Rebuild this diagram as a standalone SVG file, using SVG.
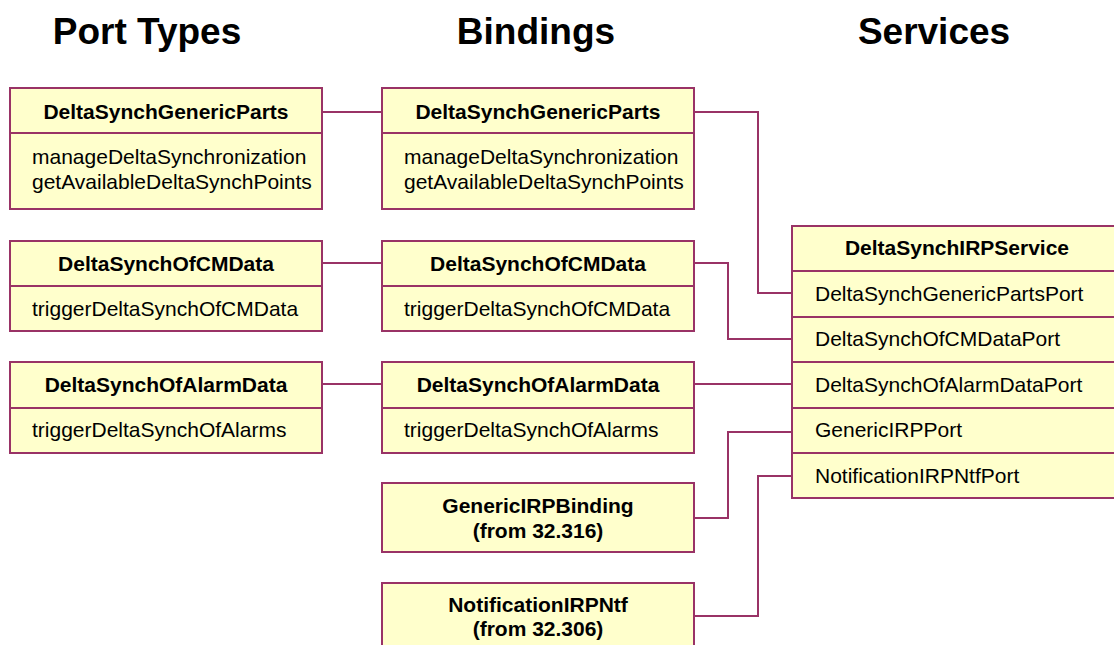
<svg xmlns="http://www.w3.org/2000/svg" width="1114" height="645" viewBox="0 0 1114 645">
<style>
.box{fill:#FFFFCC;stroke:#993366;stroke-width:2}
.div{stroke:#993366;stroke-width:2}
.conn{fill:none;stroke:#993366;stroke-width:2}
.h{font-family:"Liberation Sans",Arial,sans-serif;font-weight:bold;font-size:37px;text-anchor:middle;fill:#000}
.t{font-family:"Liberation Sans",Arial,sans-serif;font-weight:bold;font-size:21px;text-anchor:middle;fill:#000}
.o{font-family:"Liberation Sans",Arial,sans-serif;font-size:21px;fill:#000}
</style>
<rect width="1114" height="645" fill="#fff"/>
<g id="headers">
<text class="h" x="147" y="44">Port Types</text>
<text class="h" x="536" y="44">Bindings</text>
<text class="h" x="934" y="44">Services</text>
</g>
<g id="connectors">
<path class="conn" d="M322,112H382"/>
<path class="conn" d="M322,263H382"/>
<path class="conn" d="M322,384H382"/>
<path class="conn" d="M694,112H758V293H792"/>
<path class="conn" d="M694,263H728V339H792"/>
<path class="conn" d="M694,384H792"/>
<path class="conn" d="M694,518H728V432H792"/>
<path class="conn" d="M694,616H758V476H792"/>
</g>
<g id="pt-generic">
<rect class="box" x="10" y="88" width="312" height="121"/>
<line class="div" x1="10" y1="133" x2="322" y2="133"/>
<text class="t" x="166" y="119">DeltaSynchGenericParts</text>
<text class="o" x="32" y="164">manageDeltaSynchronization</text>
<text class="o" x="32" y="189">getAvailableDeltaSynchPoints</text>
</g>
<g id="pt-cm">
<rect class="box" x="10" y="241" width="312" height="90"/>
<line class="div" x1="10" y1="286" x2="322" y2="286"/>
<text class="t" x="166" y="271">DeltaSynchOfCMData</text>
<text class="o" x="32" y="316">triggerDeltaSynchOfCMData</text>
</g>
<g id="pt-alarm">
<rect class="box" x="10" y="362" width="312" height="91"/>
<line class="div" x1="10" y1="408" x2="322" y2="408"/>
<text class="t" x="166" y="392">DeltaSynchOfAlarmData</text>
<text class="o" x="32" y="437">triggerDeltaSynchOfAlarms</text>
</g>
<g id="b-generic">
<rect class="box" x="382" y="88" width="312" height="121"/>
<line class="div" x1="382" y1="133" x2="694" y2="133"/>
<text class="t" x="538" y="119">DeltaSynchGenericParts</text>
<text class="o" x="404" y="164">manageDeltaSynchronization</text>
<text class="o" x="404" y="189">getAvailableDeltaSynchPoints</text>
</g>
<g id="b-cm">
<rect class="box" x="382" y="241" width="312" height="90"/>
<line class="div" x1="382" y1="286" x2="694" y2="286"/>
<text class="t" x="538" y="271">DeltaSynchOfCMData</text>
<text class="o" x="404" y="316">triggerDeltaSynchOfCMData</text>
</g>
<g id="b-alarm">
<rect class="box" x="382" y="362" width="312" height="91"/>
<line class="div" x1="382" y1="408" x2="694" y2="408"/>
<text class="t" x="538" y="392">DeltaSynchOfAlarmData</text>
<text class="o" x="404" y="437">triggerDeltaSynchOfAlarms</text>
</g>
<g id="b-genericirp">
<rect class="box" x="382" y="483" width="312" height="69"/>
<text class="t" x="538" y="513">GenericIRPBinding</text>
<text class="t" x="538" y="538">(from 32.316)</text>
</g>
<g id="b-notif">
<rect class="box" x="382" y="583" width="312" height="70"/>
<text class="t" x="538" y="612">NotificationIRPNtf</text>
<text class="t" x="538" y="636">(from 32.306)</text>
</g>
<g id="service">
<rect class="box" x="792" y="226" width="330" height="272"/>
<line class="div" x1="792" y1="271" x2="1122" y2="271"/>
<line class="div" x1="792" y1="317" x2="1122" y2="317"/>
<line class="div" x1="792" y1="362" x2="1122" y2="362"/>
<line class="div" x1="792" y1="408" x2="1122" y2="408"/>
<line class="div" x1="792" y1="453" x2="1122" y2="453"/>
<text class="t" x="957" y="255">DeltaSynchIRPService</text>
<text class="o" x="815" y="301">DeltaSynchGenericPartsPort</text>
<text class="o" x="815" y="346">DeltaSynchOfCMDataPort</text>
<text class="o" x="815" y="392">DeltaSynchOfAlarmDataPort</text>
<text class="o" x="815" y="437">GenericIRPPort</text>
<text class="o" x="815" y="483">NotificationIRPNtfPort</text>
</g>
</svg>
